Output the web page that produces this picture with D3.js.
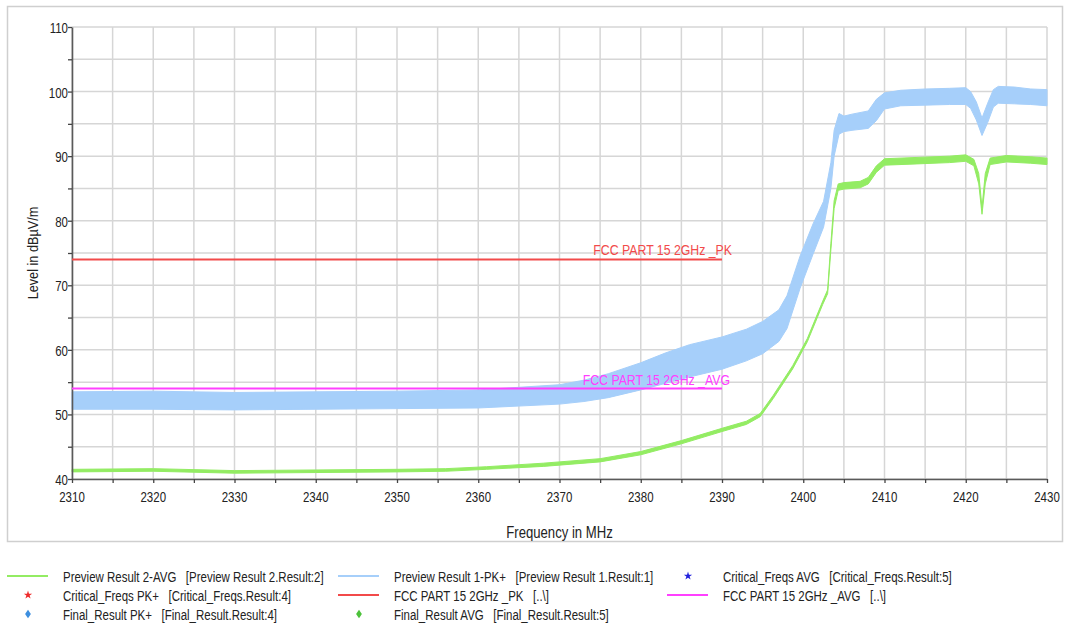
<!DOCTYPE html>
<html><head><meta charset="utf-8">
<script src="https://cdn.jsdelivr.net/npm/d3@7"></script>
<style>body{margin:0;background:#fff}</style>
</head><body><svg id="c" width="1065" height="628"></svg>
<script>
// ---------- data ----------
const xTicks = [2310,2320,2330,2340,2350,2360,2370,2380,2390,2400,2410,2420,2430];
const yTicks = [40,50,60,70,80,90,100,110];

// Preview Result 1-PK+ : envelope of the noisy trace (lower / upper, dBµV/m)
const pkFreq = [2310,2320,2330,2340,2350,2360,2365,2370,2373,2376,2380,2383,2386,2390,2393,2395,2397,2398,2399.6,2401.2,2402.5,2403.4,2403.8,2404.4,2405,2406,2408,2409,2410,2412,2415,2418,2420,2420.6,2421.3,2422,2422.7,2423.4,2424,2426,2428,2430];
const pkLo   = [50.8,50.8,50.7,50.8,50.9,51.0,51.3,51.6,52.0,52.6,53.8,54.8,55.8,57.0,58.3,59.4,61.3,63.3,69.5,74.8,79.0,85.0,90.0,93.4,93.8,94.0,94.3,95.5,97.3,97.8,97.9,98.0,98.0,97.4,95.6,93.2,95.2,97.6,98.2,98.1,98.0,97.8];
const pkHi   = [53.5,53.6,53.4,53.5,53.6,53.8,54.2,54.6,55.3,56.3,58.0,59.5,60.8,62.0,63.2,64.4,66.2,68.4,74.5,79.5,83.0,89.0,94.0,96.6,96.2,96.5,97.0,98.8,99.8,100.2,100.4,100.5,100.6,100.0,98.4,95.9,98.2,100.3,100.8,100.7,100.4,100.3];

// Preview Result 2-AVG : envelope (lower / upper)
const avgFreq = [2310,2320,2330,2340,2350,2356,2361,2368,2375,2380,2385,2390,2393,2394.7,2396.3,2398.7,2400.5,2402.4,2403.0,2403.4,2403.8,2404.3,2405,2407,2408,2409,2410,2414,2418,2420,2421,2421.6,2422,2422.4,2423,2425,2428,2430];
const avgLo   = [41.1,41.2,40.9,41.0,41.1,41.2,41.5,41.95,42.65,43.75,45.45,47.35,48.45,49.65,52.45,57.05,61.25,67.05,68.7,75.5,81.9,84.7,84.9,85.1,85.7,87.5,88.6,88.8,89.0,89.2,88.5,85.7,81.0,85.7,88.7,89.1,88.9,88.7];
const avgHi   = [41.5,41.6,41.3,41.4,41.5,41.6,41.9,42.45,43.15,44.25,45.95,47.85,48.95,50.15,52.95,57.55,61.75,67.55,69.3,76.5,83.1,85.7,85.9,86.1,86.7,88.5,89.6,89.8,90.0,90.2,89.5,87.3,82.0,87.3,89.7,90.1,89.9,89.7];

// Limit lines
const limitFreq = [2310, 2390];
const pkLimit  = [74, 74];
const avgLimit = [54, 54];
const pkLimitLabel  = "FCC PART 15 2GHz _PK";
const avgLimitLabel = "FCC PART 15 2GHz _AVG";

// Legend
const legendLabels = [
  "Preview Result 2-AVG   [Preview Result 2.Result:2]",
  "Preview Result 1-PK+   [Preview Result 1.Result:1]",
  "Critical_Freqs AVG   [Critical_Freqs.Result:5]",
  "Critical_Freqs PK+   [Critical_Freqs.Result:4]",
  "FCC PART 15 2GHz _PK   [..\\]",
  "FCC PART 15 2GHz _AVG   [..\\]",
  "Final_Result PK+   [Final_Result.Result:4]",
  "Final_Result AVG   [Final_Result.Result:5]"
];
const legendKinds = ["line","line","star","star","line","line","diamond","diamond"];
const legendColors = ["#93ec63","#a6cffa","#2222dd","#ee2b2b","#f24a4a","#ff40ff","#3d8fdf","#4cc23a"];

// ---------- drawing ----------
const FONT = '"Liberation Sans Narrow","Arial Narrow","Liberation Sans",Arial,sans-serif';
const SX = 0.82; // horizontal condensation to mimic a narrow face
const svg = d3.select("#c");
const x = d3.scaleLinear().domain([2310,2430]).range([72,1047]);
const y = d3.scaleLinear().domain([40,110]).range([479,27]);

function ntext(g, px, py, str, opt) {
  opt = opt || {};
  return g.append("text")
    .attr("transform", `translate(${px},${py}) ${opt.rotate ? "rotate("+opt.rotate+")" : ""} scale(${SX},1)`)
    .attr("text-anchor", opt.anchor || "start")
    .attr("font-family", FONT).attr("font-size", opt.size || 14)
    .attr("fill", opt.fill || "#222")
    .attr("xml:space","preserve").style("white-space","pre")
    .text(str);
}

// outer frame
svg.append("rect").attr("x",7.5).attr("y",6.5).attr("width",1055).attr("height",535)
  .attr("fill","none").attr("stroke","#cfcfcf").attr("stroke-width",1.5);

// grid
const gx = d3.range(2310,2431,5), gy = d3.range(40,111,5);
svg.append("g").selectAll("line").data(gx).join("line")
  .attr("x1",d=>x(d)).attr("x2",d=>x(d)).attr("y1",y(110)).attr("y2",y(40))
  .attr("stroke","#d6d6d6").attr("stroke-width",1.5);
svg.append("g").selectAll("line").data(gy).join("line")
  .attr("x1",x(2310)).attr("x2",x(2430)).attr("y1",d=>y(d)).attr("y2",d=>y(d))
  .attr("stroke","#d6d6d6").attr("stroke-width",1.5);

// traces
const pkData = pkFreq.map((f,i)=>({f,lo:pkLo[i],hi:pkHi[i]}));
const avgData = avgFreq.map((f,i)=>({f,lo:avgLo[i],hi:avgHi[i]}));
const area = d3.area().x(d=>x(d.f)).y0(d=>y(d.lo)).y1(d=>y(d.hi));
svg.append("path").datum(pkData).attr("d",area).attr("fill","#a6cffa")
  .attr("stroke","#a6cffa").attr("stroke-width",1);
svg.append("path").datum(avgData).attr("d",area).attr("fill","#93ec63")
  .attr("stroke","#93ec63").attr("stroke-width",1);

// axes (ticks, no labels; labels drawn condensed)
const yAx = svg.append("g").attr("transform",`translate(${x(2310)},0)`)
  .call(d3.axisLeft(y).tickValues(gy).tickSize(4).tickSizeOuter(0).tickFormat(""));
const xAx = svg.append("g").attr("transform",`translate(0,${y(40)})`)
  .call(d3.axisBottom(x).tickValues(gx).tickSize(4).tickSizeOuter(0).tickFormat(""));
[yAx,xAx].forEach(a=>{
  a.select(".domain").attr("stroke","#5a5a5a").attr("stroke-width",1.6);
  a.selectAll(".tick line").attr("stroke","#444").attr("stroke-width",1.3);
});
const tl = svg.append("g");
yTicks.forEach(v=> ntext(tl, x(2310)-4, y(v)+6, String(v), {anchor:"end", size:14}));
xTicks.forEach(v=> ntext(tl, x(v), y(40)+23, String(v), {anchor:"middle", size:14}));

// limit lines
const limLine = d3.line().x(d=>x(d[0])).y(d=>y(d[1]));
svg.append("path").attr("d",limLine(limitFreq.map((f,i)=>[f,pkLimit[i]])))
  .attr("stroke","#f24a4a").attr("stroke-width",2).attr("fill","none");
svg.append("path").attr("d",limLine(limitFreq.map((f,i)=>[f,avgLimit[i]])))
  .attr("stroke","#ff40ff").attr("stroke-width",2).attr("fill","none");
ntext(svg, x(2390)+10, y(pkLimit[1])-4, pkLimitLabel, {anchor:"end", size:15, fill:"#f24a4a"});
ntext(svg, x(2390)+8, y(avgLimit[1])-4, avgLimitLabel, {anchor:"end", size:15, fill:"#ff40ff"});

// axis titles
ntext(svg, (x(2310)+x(2430))/2, 538, "Frequency in MHz", {anchor:"middle", size:16});
ntext(svg, 38, (y(40)+y(110))/2, "Level in dBµV/m", {anchor:"middle", size:15.5, rotate:-90});

// legend
const colX = [7,338,667], rowY = [577,596,615];
const lg = svg.append("g");
legendLabels.forEach((lab,i)=>{
  const c = i%3, r = Math.floor(i/3);
  const x0 = colX[c], yy = rowY[r], col = legendColors[i];
  if (legendKinds[i]==="line") {
    lg.append("line").attr("x1",x0).attr("x2",x0+41).attr("y1",yy-1).attr("y2",yy-1)
      .attr("stroke",col).attr("stroke-width",2);
  } else if (legendKinds[i]==="star") {
    lg.append("path").attr("transform",`translate(${x0+21},${yy-1})`)
      .attr("d",d3.symbol(d3.symbolStar,22)()).attr("fill",col);
  } else {
    lg.append("path").attr("transform",`translate(${x0+21},${yy-1}) scale(0.75,1.1) rotate(45)`)
      .attr("d",d3.symbol(d3.symbolSquare,30)()).attr("fill",col);
  }
  ntext(lg, x0+56, yy+5, lab, {size:14});
});
</script></body></html>
